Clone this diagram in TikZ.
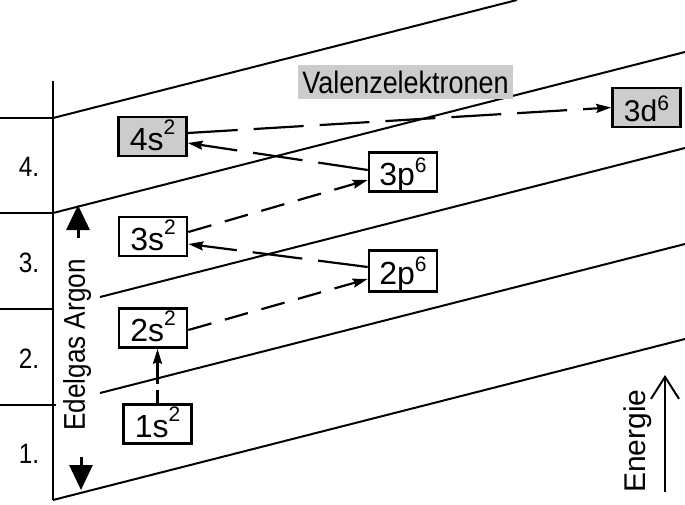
\documentclass[tikz,border=0pt]{standalone}
\usepackage{fontspec}
\setmainfont{Liberation Sans}
\newfontfamily\narrowfont[FakeStretch=0.87]{Liberation Sans}
\usetikzlibrary{arrows.meta}
\definecolor{boxgray}{gray}{0.8}
\newcommand{\hoch}[2][16pt]{\raisebox{#1}{\fontsize{21}{21}\selectfont #2}}
\begin{document}
\begin{tikzpicture}[x=1pt,y=-1pt,
  grid/.style={line width=2pt},
  box/.style={draw, line width=2.6pt, inner sep=0pt, minimum width=68pt, minimum height=39pt,
    text height=27pt, text depth=0pt, font=\fontsize{32}{32}\selectfont},
  graybox/.style={box, fill=boxgray},
  tip/.style={-{Stealth[length=15pt,width=9pt,inset=2pt]}},
  longdash/.style={tip, line width=2.2pt, dash pattern=on 50pt off 16pt},
  meddash/.style={tip, line width=2.2pt, dash pattern=on 24pt off 14pt},
  shortdash/.style={tip, line width=2.2pt, dash pattern=on 13pt off 6pt on 40pt off 6pt},
  rowlabel/.style={font=\narrowfont\fontsize{28}{28}\selectfont},
  sidetext/.style={font=\narrowfont\fontsize{30}{30}\selectfont, inner sep=0pt},
  bigtip/.style={-{Triangle[length=25pt,width=23pt]}, line width=3pt}
]
\useasboundingbox (0,0) rectangle (685,504);
% left frame
\draw[grid] (53,81) -- (53,500);
\draw[grid] (0,118) -- (53,118);
\draw[grid] (0,213) -- (53,213);
\draw[grid] (0,309) -- (53,309);
\draw[grid] (0,405) -- (56,405);
% slanted level lines
\draw[grid] (53,118) -- (517,0);
\draw[grid] (53,213) -- (685,52);
\draw[grid] (100,297) -- (685,148);
\draw[grid] (100,393) -- (685,244);
\draw[grid] (53,500) -- (685,339);
% row labels
\node[rowlabel] (r4) at (29,167) {4.};
\node[rowlabel] (r3) at (29,263) {3.};
\node[rowlabel] (r2) at (29,359) {2.};
\node[rowlabel] (r1) at (29,454) {1.};
% Edelgas Argon
\node[sidetext, rotate=90] (argon) at (77,345) {Edelgas Argon};
\coordinate (upfrom) at (78,238);
\coordinate (upto) at (78,205);
\coordinate (dnfrom) at (81,457);
\coordinate (dnto) at (81,490);
\draw[bigtip] (upfrom) -- (upto);
\draw[bigtip] (dnfrom) -- (dnto);
% Valenzelektronen
\node[fill=boxgray, minimum width=215pt, minimum height=34pt, inner sep=0pt,
  font=\narrowfont\fontsize{31}{31}\selectfont] (valenz) at (405.5,82) {Valenzelektronen};
% orbital boxes
\node[graybox] (n4s) at (152.5,136.5) {4s\hoch{2}};
\node[box] (n3s) at (153,236.5) {3s\hoch{2}};
\node[box] (n2s) at (153,328) {2s\hoch{2}};
\node[box] (n1s) at (157.5,424) {1s\hoch{2}};
\node[box] (n3p) at (403,172) {3p\hoch[13pt]{6}};
\node[box, minimum height=41pt] (n2p) at (403,271) {2p\hoch[13pt]{6}};
\node[graybox, font=\fontsize{30}{30}\selectfont] (n3d) at (646.5,107.5) {3d\hoch[11pt]{6}};
% connectors
\draw[shortdash] (n1s.north) -- (n1s.north |- n2s.south);
\draw[meddash] ([yshift=-2pt]n2s.east) -- ([yshift=-8pt]n2p.west);
\draw[longdash] ([yshift=4pt]n2p.west) -- ([yshift=-7.5pt]n3s.east);
\draw[meddash] ([yshift=4.5pt]n3s.east) -- ([yshift=-8pt]n3p.west);
\draw[longdash] ([yshift=2pt]n3p.west) -- ([yshift=-6.5pt]n4s.east);
\draw[longdash] ([yshift=3.5pt]n4s.east) -- (n3d.west);
% Energie
\coordinate (efrom) at (665,492);
\coordinate (eto) at (665,375);
\draw[line width=2pt, -{Straight Barb[length=22pt,width=28pt]}] (efrom) -- (eto);
\node[font=\fontsize{30}{30}\selectfont, rotate=90, inner sep=0pt] (energie) at (638,441) {Energie};
\end{tikzpicture}
\end{document}
